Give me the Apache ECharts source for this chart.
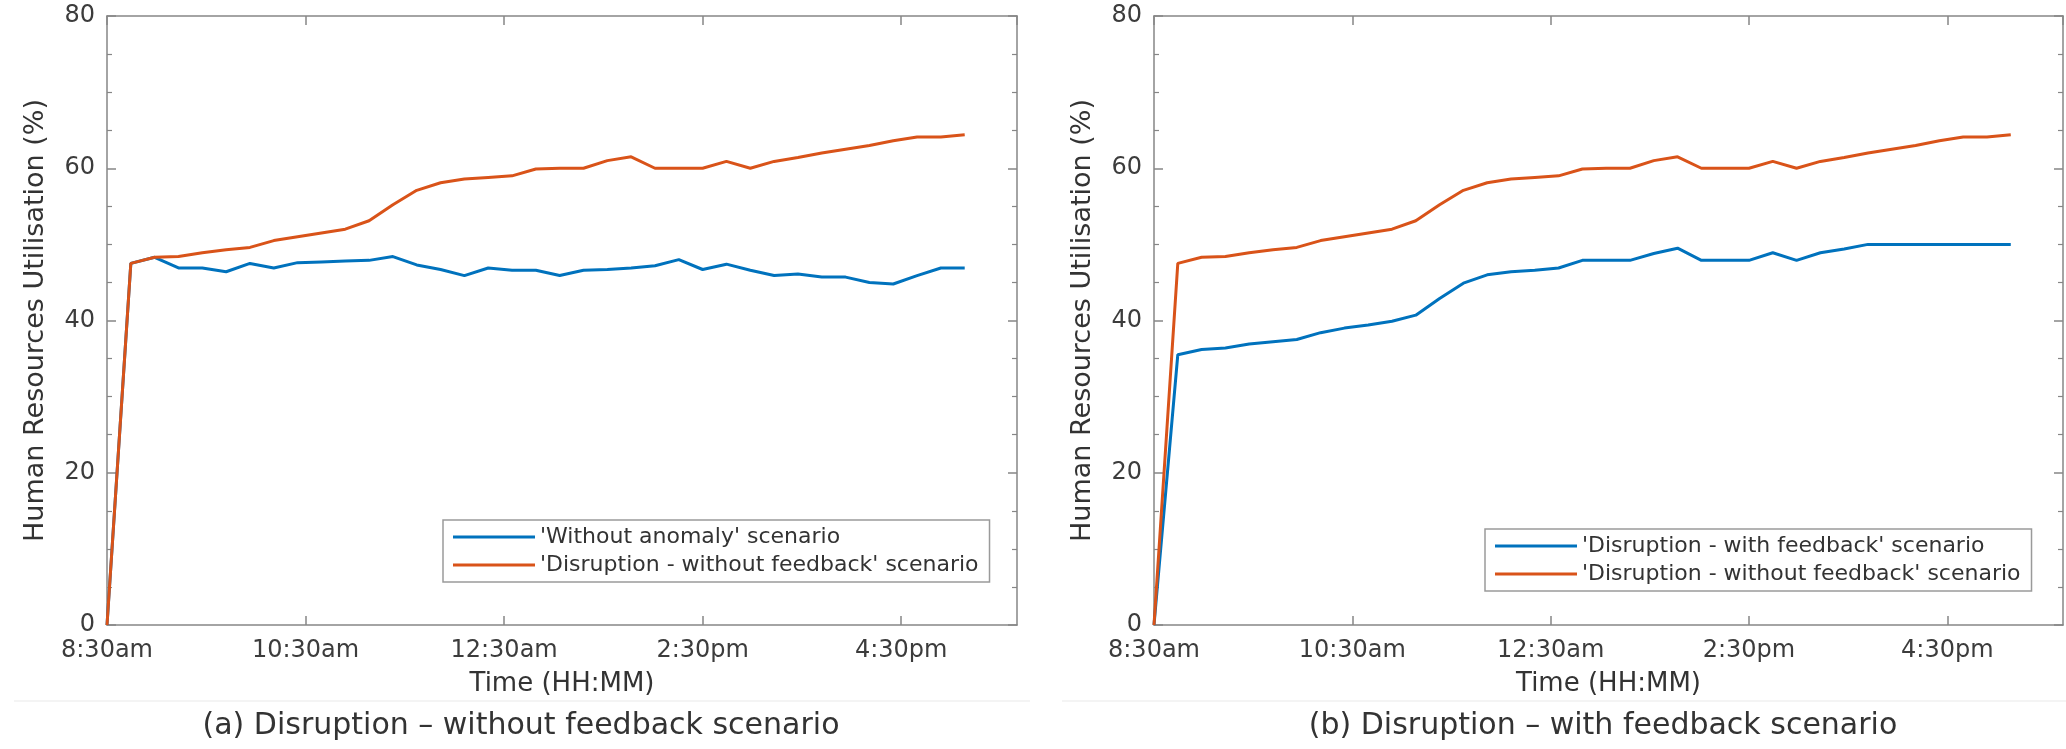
<!DOCTYPE html>
<html><head><meta charset="utf-8">
<script src="https://cdn.jsdelivr.net/npm/echarts@6/dist/echarts.min.js"></script>
<style>html,body{margin:0;padding:0;background:#fff}#c{width:2066px;height:749px}</style>
</head><body><div id="c"></div>
<script>
// ---- data ----
const timeMinutes = [0, 14.4, 28.8, 43.2, 57.6, 72, 86.4, 100.8, 115.2, 129.6, 144, 158.4, 172.8, 187.2, 201.6, 216, 230.4, 244.8, 259.2, 273.6, 288, 302.4, 316.8, 331.2, 345.6, 360, 374.4, 388.8, 403.2, 417.6, 432, 446.4, 460.8, 475.2, 489.6, 504, 518.4];
const tickMinutes = [0, 120, 240, 360, 480];
const tickLabels = ['8:30am', '10:30am', '12:30am', '2:30pm', '4:30pm'];
const withoutAnomaly = [0, 47.5, 48.3, 46.9, 46.9, 46.4, 47.5, 46.9, 47.6, 47.7, 47.8, 47.9, 48.4, 47.3, 46.7, 45.9, 46.9, 46.6, 46.6, 45.9, 46.6, 46.7, 46.9, 47.2, 48.0, 46.7, 47.4, 46.6, 45.9, 46.1, 45.7, 45.7, 45.0, 44.8, 45.9, 46.9, 46.9];
const disruptionNoFeedback = [0, 47.5, 48.3, 48.4, 48.9, 49.3, 49.6, 50.5, 51.0, 51.5, 52.0, 53.1, 55.2, 57.1, 58.1, 58.6, 58.8, 59.0, 59.9, 60.0, 60.0, 61.0, 61.5, 60.0, 60.0, 60.0, 60.9, 60.0, 60.9, 61.4, 62.0, 62.5, 63.0, 63.6, 64.1, 64.1, 64.4];
const disruptionWithFeedback = [0, 35.5, 36.2, 36.4, 36.9, 37.2, 37.5, 38.4, 39.0, 39.4, 39.9, 40.7, 42.9, 44.9, 46.0, 46.4, 46.6, 46.9, 47.9, 47.9, 47.9, 48.8, 49.5, 47.9, 47.9, 47.9, 48.9, 47.9, 48.9, 49.4, 50.0, 50.0, 50.0, 50.0, 50.0, 50.0, 50.0];
const nameWithoutAnomaly = "'Without anomaly' scenario";
const nameNoFeedback = "'Disruption - without feedback' scenario";
const nameWithFeedback = "'Disruption - with feedback' scenario";
const captions = ['(a) Disruption \u2013 without feedback scenario', '(b) Disruption \u2013 with feedback scenario'];
const xTitle = 'Time (HH:MM)';
const yTitle = 'Human Resources Utilisation (%)';

// ---- styles ----
const FONT = 'DejaVu Sans';
const FRAME = '#868686';
const LABEL = '#3c3c3c';
const BLUE = '#0072BD';
const ORANGE = '#D95319';

function pairs(arr) { return timeMinutes.map((t, i) => [t, arr[i]]); }

function xAx(grid, pos, showLab) {
  return {
    type: 'value', gridIndex: grid, position: pos, min: 0, max: 550, interval: 120,
    axisLine: { show: true, onZero: false, lineStyle: { color: FRAME, width: 1.5 } },
    axisTick: { show: true, inside: true, length: 9, lineStyle: { color: FRAME, width: 1.5 } },
    splitLine: { show: false },
    axisLabel: {
      show: showLab, margin: 14, showMaxLabel: false, fontFamily: FONT, fontSize: 24, color: LABEL,
      formatter: v => { const i = tickMinutes.indexOf(v); return i >= 0 ? tickLabels[i] : ''; }
    },
    name: showLab ? xTitle : '', nameLocation: 'middle', nameGap: 46,
    nameTextStyle: { fontFamily: FONT, fontSize: 26, color: '#333' }
  };
}
function yAx(grid, pos, showLab) {
  return {
    type: 'value', gridIndex: grid, position: pos, min: 0, max: 80, interval: 20,
    axisLine: { show: true, onZero: false, lineStyle: { color: FRAME, width: 1.5 } },
    axisTick: { show: true, inside: true, length: 9, lineStyle: { color: FRAME, width: 1.5 } },
    minorTick: { show: true, splitNumber: 4, length: 5, lineStyle: { color: FRAME, width: 1.2 } },
    splitLine: { show: false },
    axisLabel: { show: showLab, margin: 12, fontFamily: FONT, fontSize: 24, color: LABEL },
    name: showLab ? yTitle : '', nameLocation: 'middle', nameGap: 58,
    nameTextStyle: { fontFamily: FONT, fontSize: 27, color: '#333' }
  };
}
function line(name, arr, xi, yi, color) {
  return {
    type: 'line', name: name, data: pairs(arr), xAxisIndex: xi, yAxisIndex: yi,
    symbol: 'none', showSymbol: false, smooth: false,
    lineStyle: { color: color, width: 3 }, itemStyle: { color: color },
    emphasis: { disabled: true }, animation: false
  };
}
function legend(names, left, top) {
  return {
    data: names.map(n => ({ name: n, icon: 'rect' })), left: left, top: top, orient: 'vertical',
    backgroundColor: '#fff', borderColor: '#9a9a9a', borderWidth: 1.5, borderRadius: 0,
    padding: [6, 11, 6, 10], itemGap: 6, itemWidth: 82, itemHeight: 3,
    textStyle: { fontFamily: FONT, fontSize: 22, color: '#333', lineHeight: 22 },
    selectedMode: false
  };
}

const chart = echarts.init(document.getElementById('c'), null, { renderer: 'canvas' });
chart.setOption({
  backgroundColor: '#fff',
  animation: false,
  grid: [
    { left: 107, top: 16, width: 910, height: 609, containLabel: false, outerBoundsMode: 'none' },
    { left: 1154, top: 16, width: 909, height: 609, containLabel: false, outerBoundsMode: 'none' }
  ],
  xAxis: [xAx(0, 'bottom', true), xAx(0, 'top', false), xAx(1, 'bottom', true), xAx(1, 'top', false)],
  yAxis: [yAx(0, 'left', true), yAx(0, 'right', false), yAx(1, 'left', true), yAx(1, 'right', false)],
  legend: [legend([nameWithoutAnomaly, nameNoFeedback], 443, 520), legend([nameWithFeedback, nameNoFeedback], 1485, 529)],
  series: [
    line(nameWithoutAnomaly, withoutAnomaly, 0, 0, BLUE),
    line(nameNoFeedback, disruptionNoFeedback, 0, 0, ORANGE),
    line(nameWithFeedback, disruptionWithFeedback, 2, 2, BLUE),
    line(nameNoFeedback, disruptionNoFeedback, 2, 2, ORANGE)
  ],
  graphic: [
    { type: 'line', shape: { x1: 14, y1: 701, x2: 1030, y2: 701 }, style: { stroke: '#f0f0f0', lineWidth: 1.5 }, silent: true },
    { type: 'line', shape: { x1: 1062, y1: 701, x2: 2066, y2: 701 }, style: { stroke: '#f0f0f0', lineWidth: 1.5 }, silent: true },
    { type: 'text', style: { text: captions[0], x: 521, y: 726, align: 'center', verticalAlign: 'middle', font: '30px "DejaVu Sans"', fill: '#333' }, silent: true },
    { type: 'text', style: { text: captions[1], x: 1603, y: 726, align: 'center', verticalAlign: 'middle', font: '30px "DejaVu Sans"', fill: '#333' }, silent: true }
  ]
});
</script>
</body></html>
